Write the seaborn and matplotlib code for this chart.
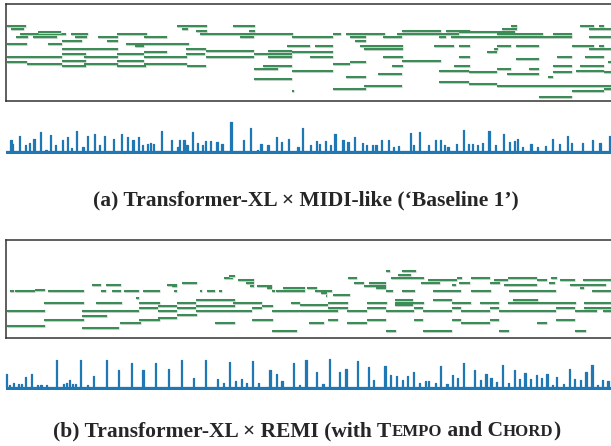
import numpy as np
import pandas as pd
import matplotlib
matplotlib.use("Agg")
import matplotlib.pyplot as plt
import matplotlib.patheffects as pe
import seaborn as sns

# ---------------- data ----------------
# Piano roll (a): note start, note end (time ticks), pitch
roll_a_start = [7, 177, 233, 11, 182, 196, 249, 20, 38, 71, 117, 200, 253, 16, 33, 75, 98, 144, 240, 292,
                62, 107, 7, 48, 126, 135, 287, 62, 186, 206, 268, 144, 292, 62, 117, 186, 254,
                7, 84, 144, 206, 268, 62, 117, 7, 27, 84, 144, 62, 117, 187, 263, 254, 292, 324, 254, 292,
                511, 580, 599, 589, 502, 402, 446, 459, 333, 346, 397, 497, 553, 350, 383, 439, 451, 589,
                355, 315, 360, 434, 459, 497, 516, 572, 599, 364, 494, 589, 487, 310, 383, 459, 516, 557,
                585, 402, 350, 608, 333, 392, 454, 553, 580, 497, 529, 439, 576, 469, 553, 604, 378, 507,
                346, 548, 439, 469, 364, 497, 333, 572, 604, 539]
roll_a_end = [26, 207, 255, 24, 188, 207, 255, 66, 61, 88, 147, 253, 293, 28, 57, 87, 118, 167, 254, 333,
              82, 118, 27, 62, 189, 144, 310, 118, 206, 254, 292, 167, 333, 86, 144, 205, 292,
              62, 118, 187, 254, 292, 86, 144, 27, 62, 118, 187, 86, 146, 206, 292, 278, 324, 333, 292, 294,
              517, 594, 604, 611, 517, 441, 470, 515, 341, 385, 459, 543, 572, 366, 402, 446, 572, 611,
              366, 333, 403, 454, 470, 511, 539, 594, 604, 403, 498, 611, 497, 333, 403, 470, 539, 572,
              604, 441, 366, 611, 350, 403, 470, 572, 604, 511, 539, 469, 604, 497, 572, 611, 402, 539,
              366, 553, 469, 497, 402, 611, 366, 604, 611, 572]
roll_a_pitch = [75, 75, 75, 73, 73, 72, 72, 70, 71, 70, 70, 70, 70, 68, 68, 68, 68, 68, 68, 68,
                66, 66, 64, 64, 64, 63, 63, 61, 61, 60, 60, 59, 59, 58, 58, 58, 58,
                56, 56, 56, 56, 56, 54, 54, 53, 52, 52, 52, 51, 51, 51, 51, 49, 48, 48, 43, 36,
                75, 75, 75, 73, 73, 72, 72, 71, 70, 70, 70, 70, 70, 68, 68, 68, 68, 68,
                66, 63, 63, 63, 63, 63, 63, 63, 63, 61, 61, 61, 59, 56, 56, 56, 55, 56,
                56, 54, 53, 53, 52, 51, 51, 51, 51, 49, 49, 48, 48, 47, 47, 47, 46, 46,
                44, 44, 41, 40, 39, 39, 37, 36, 37, 32]

# Piano roll (b)
roll_b_start = [224, 229, 238, 92, 106, 167, 172, 182, 246, 250, 257, 267, 283,
                10, 15, 35, 48, 101, 112, 124, 143, 174, 200, 207, 219, 272, 276,
                136, 196, 44, 96, 139, 177, 233, 291, 262, 158, 196, 139, 177, 252,
                7, 82, 158, 196, 272, 177, 82, 158, 44, 139, 252, 120, 215, 7, 82, 272,
                386, 402, 398, 391, 348, 428, 457, 471, 494, 508, 537, 551, 560, 583,
                354, 369, 421, 452, 459, 490, 504, 549, 570, 577, 364, 376, 580,
                300, 307, 300, 315, 386, 402, 433, 471, 509, 592, 321, 333, 326,
                395, 433, 513, 328, 367, 395, 452, 480, 508, 538, 584, 300, 395,
                328, 367, 414, 452, 490, 556, 584, 300, 347, 386, 423, 461, 499, 575, 603,
                328, 367, 414, 452, 490, 556, 309, 347, 461, 537, 386, 423, 499, 575]
roll_b_end = [233, 235, 254, 101, 121, 177, 177, 197, 254, 254, 272, 272, 300,
              14, 35, 45, 84, 106, 121, 139, 160, 177, 202, 215, 222, 275, 300,
              139, 235, 84, 122, 160, 196, 262, 300, 273, 177, 235, 158, 196, 262,
              45, 139, 177, 252, 300, 197, 107, 177, 84, 160, 273, 141, 235, 45, 119, 297,
              390, 416, 411, 424, 357, 457, 462, 490, 508, 537, 547, 557, 575, 611,
              364, 386, 440, 456, 470, 500, 537, 555, 577, 606, 386, 386, 584,
              305, 317, 305, 332, 393, 415, 461, 491, 556, 611, 327, 350, 327,
              413, 452, 538, 348, 387, 424, 471, 499, 538, 576, 611, 328, 413,
              348, 386, 423, 461, 499, 575, 611, 338, 367, 414, 452, 490, 556, 597, 611,
              338, 386, 423, 461, 499, 575, 324, 367, 490, 547, 396, 452, 509, 586]
roll_b_pitch = [65, 66, 64, 61, 61, 61, 60, 62, 62, 60, 60, 59, 59,
                57, 57, 58, 57, 57, 57, 57, 57, 57, 57, 57, 57, 57, 57,
                53, 52, 50, 50, 50, 50, 50, 50, 48, 48, 48, 47, 47, 47,
                45, 45, 45, 45, 45, 43, 42, 41, 40, 40, 40, 38, 38, 36, 35, 33,
                69, 69, 67, 65, 65, 64, 65, 65, 64, 65, 64, 65, 64, 64,
                62, 62, 62, 61, 62, 62, 61, 62, 61, 61, 60, 59, 59,
                59, 59, 57, 57, 57, 57, 57, 57, 57, 57, 56, 55, 54,
                52, 52, 52, 50, 50, 50, 50, 50, 50, 50, 50, 49, 49,
                47, 47, 47, 47, 47, 47, 47, 45, 45, 45, 45, 45, 45, 45, 45,
                40, 40, 40, 40, 40, 40, 38, 38, 38, 38, 33, 33, 33, 33]

# Onset strength curves: frame index and peak height
onset_a_frame = [28, 33, 50, 65, 75, 87, 104, 118, 130, 143, 160, 174, 183, 197, 213, 225, 243, 256, 268, 292,
                 311, 327, 341, 355, 365, 378, 386, 394, 415, 440, 457, 460, 472, 480, 494, 507, 520, 527,
                 540, 557, 570, 593, 608, 625, 643, 660, 670, 688, 710, 722, 740, 765, 777, 797, 812, 820,
                 835, 848, 860, 880, 893, 909, 930, 940, 955, 965, 980, 997, 1010, 1022, 1053, 1062, 1076,
                 1100, 1117, 1130, 1140, 1150, 1172, 1190, 1203, 1213, 1225, 1238, 1255, 1272, 1292, 1307,
                 1320, 1328, 1340, 1363, 1380, 1400, 1417, 1435, 1457, 1467, 1494, 1520, 1540, 1565]
onset_a_value = [42, 30, 52, 25, 33, 43, 63, 12, 55, 27, 40, 48, 17, 67, 20, 53, 59, 25, 53, 43,
                 59, 48, 40, 48, 25, 30, 32, 30, 67, 40, 20, 40, 40, 27, 64, 33, 27, 37,
                 37, 35, 30, 92, 10, 40, 75, 12, 30, 27, 50, 35, 43, 20, 75, 25, 38, 30,
                 37, 27, 58, 42, 35, 50, 33, 25, 25, 27, 42, 42, 20, 23, 62, 25, 64,
                 27, 42, 42, 25, 20, 30, 70, 30, 30, 25, 33, 67, 25, 57, 35,
                 37, 43, 20, 30, 20, 23, 43, 30, 52, 33, 33, 40, 33, 52]
onset_b_frame = [17, 25, 35, 48, 55, 65, 80, 97, 105, 120, 145, 162, 170, 178, 186, 193, 207, 225, 240, 273,
                 305, 337, 367, 400, 433, 466, 496, 528, 558, 573, 588, 604, 620, 633, 648, 663, 693, 709,
                 724, 753, 769, 785, 813, 829, 845, 872, 888, 917, 945, 958, 988, 1002, 1017, 1032, 1046,
                 1061, 1076, 1092, 1100, 1117, 1131, 1147, 1161, 1175, 1190, 1218, 1233, 1247, 1260, 1275,
                 1290, 1305, 1320, 1333, 1347, 1362, 1376, 1390, 1404, 1418, 1428, 1446, 1461, 1474, 1490,
                 1504, 1519, 1533, 1546, 1560]
onset_b_value = [45, 12, 20, 17, 17, 37, 47, 12, 12, 12, 89, 15, 20, 27, 15, 15, 87, 12, 39, 87,
                 57, 79, 59, 80, 62, 89, 34, 89, 30, 20, 82, 25, 30, 20, 85, 19, 59, 47,
                 26, 80, 14, 87, 52, 16, 92, 52, 62, 84, 67, 29, 70, 44, 40, 27, 39,
                 52, 20, 25, 25, 20, 69, 15, 42, 35, 80, 57, 27, 47, 34, 22,
                 72, 20, 57, 32, 49, 32, 44, 34, 47, 14, 37, 17, 60, 32, 29,
                 52, 74, 14, 27, 24]
onset_a_floor = 10
onset_b_floor = 7

caption_a = "(a) Transformer-XL × MIDI-like (‘Baseline 1’)"
caption_b_pieces = [("(b) Transformer-XL × REMI (with T", False), ("EMPO", True),
                    (" and C", False), ("HORD", True), (")", False)]

# ---------------- style ----------------
sns.set_theme(style="white")
plt.rcParams["font.family"] = ["Liberation Serif", "DejaVu Serif"]

NOTE_COLOR = "#3b8c56"
ONSET_COLOR = "#1f77b4"
W, H = 611, 446
fig = plt.figure(figsize=(W / 100, H / 100), dpi=100)


def px_axes(left, top, right, bottom):
    return fig.add_axes([left / W, 1 - bottom / H, (right - left) / W, (bottom - top) / H])


def draw_roll(ax, starts, ends, pitches, ylo):
    rows = []
    for i, (s, e, p) in enumerate(zip(starts, ends, pitches)):
        rows.append({"t": s, "pitch": p, "note": i})
        rows.append({"t": e, "pitch": p, "note": i})
    df = pd.DataFrame(rows)
    sns.lineplot(data=df, x="t", y="pitch", units="note", estimator=None, sort=False,
                 color=NOTE_COLOR, lw=1.45, solid_capstyle="butt", ax=ax, legend=False,
                 path_effects=[pe.Stroke(linewidth=2.2, foreground="#c3cfc6"), pe.Normal()])
    ax.set_xlim(6, 620)
    ax.set_ylim(ylo, 88)
    ax.set_xticks([]); ax.set_yticks([])
    ax.set_xlabel(""); ax.set_ylabel("")
    for sp in ax.spines.values():
        sp.set_visible(True)
        sp.set_color("#333333")
        sp.set_linewidth(1.1)


def draw_onset(ax, frames, values, floor):
    t = [15]
    h = [floor]
    for f, v in sorted(zip(frames, values)):
        t += [f - 1.6, f - 1.6, f + 1.6, f + 1.6]
        h += [floor, v, v, floor]
    t.append(1570)
    h.append(floor)
    sns.lineplot(x=t, y=h, estimator=None, sort=False, color=ONSET_COLOR, lw=0.9, ax=ax)
    ax.fill_between(t, 0, h, color=ONSET_COLOR, lw=0)
    ax.set_xlim(0, 1568)
    ax.set_ylim(0, 100)
    ax.set_axis_off()


ax_ra = px_axes(6, 4, 620, 101)
draw_roll(ax_ra, roll_a_start, roll_a_end, roll_a_pitch, 29.9)
ax_oa = px_axes(0, 119.5, 611, 154)
draw_onset(ax_oa, onset_a_frame, onset_a_value, onset_a_floor)

ax_rb = px_axes(6, 239.5, 620, 337.5)
draw_roll(ax_rb, roll_b_start, roll_b_end, roll_b_pitch, 29.3)
ax_ob = px_axes(0, 356, 611, 389.5)
draw_onset(ax_ob, onset_b_frame, onset_b_value, onset_b_floor)

FS = 15.5
fig.text(306 / W, 1 - 200 / H, caption_a, ha="center", va="center", fontsize=FS, fontweight="bold")

renderer = fig.canvas.get_renderer()
texts = []
for s, small in caption_b_pieces:
    t = fig.text(0, 1 - 436 / H, s, ha="left", va="baseline",
                 fontsize=FS * (0.78 if small else 1.0), fontweight="bold")
    texts.append((t, t.get_window_extent(renderer).width))
total = sum(w for _, w in texts)
x = 307 - total / 2
for t, w in texts:
    t.set_x(x / W)
    x += w

fig.savefig("out.png", dpi=100)
